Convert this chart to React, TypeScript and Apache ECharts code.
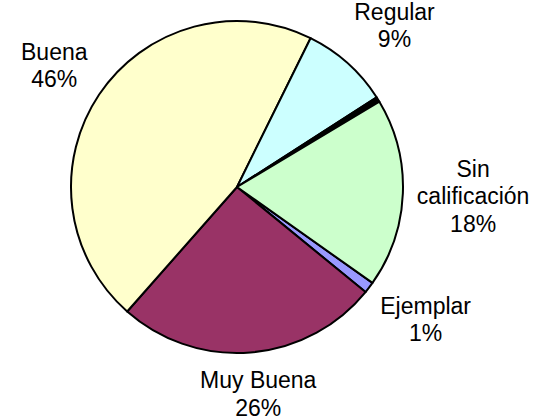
import React, { useEffect, useRef } from "react";
import * as echarts from "echarts";

const categories = ["Ejemplar", "Muy Buena", "Buena", "Regular", "Deficiente", "Sin calificación"];
const values = [1.1, 25.6, 45.8, 8.6, 0.5, 18.4];
const colors = ["#9999FF", "#993366", "#FFFFCC", "#CCFFFF", "#000000", "#CCFFCC"];
const hiddenLabels = ["Deficiente"];

const START_DEG = 125.3; // clockwise from 12 o'clock
const CX = 237;
const CY = 187;
const R = 166;
const GAP = 14;

export default function App() {
  const ref = useRef<HTMLDivElement>(null);
  useEffect(() => {
    if (!ref.current) return;
    const chart = echarts.init(ref.current, null, { renderer: "svg" });
    const total = values.reduce((a, b) => a + b, 0);
    const mids: number[] = [];
    let acc = 0;
    values.forEach((v) => {
      const span = (v / total) * 360;
      mids.push(START_DEG + acc + span / 2);
      acc += span;
    });
    chart.setOption({
      animation: false,
      backgroundColor: "#ffffff",
      series: [
        {
          type: "pie",
          center: [CX, CY],
          radius: R,
          startAngle: 90 - START_DEG,
          clockwise: true,
          avoidLabelOverlap: false,
          itemStyle: { borderColor: "#000000", borderWidth: 2 },
          emphasis: { disabled: true },
          label: {
            show: true,
            position: "outside",
            formatter: (p: any) => `${p.name === "Sin calificación" ? "Sin\ncalificación" : p.name}\n${Math.round(p.percent)}%`,
            fontFamily: "Liberation Sans, Arial, sans-serif",
            fontSize: 23,
            lineHeight: 27.5,
            color: "#000000",
          },
          labelLine: { show: false },
          labelLayout: (params: any) => {
            const i = params.dataIndex;
            const a = (mids[i] * Math.PI) / 180;
            const dx = Math.sin(a);
            const dy = -Math.cos(a);
            const w = params.labelRect.width / 2;
            const h = params.labelRect.height / 2;
            const k = 1.4;
            const cl = (t: number) => Math.max(-1, Math.min(1, t * k));
            return {
              x: CX + dx * (R + GAP) + w * cl(dx),
              y: CY + dy * (R + GAP) + h * cl(dy),
              align: "center",
              verticalAlign: "middle",
            };
          },
          data: categories.map((c, i) => ({
            name: c,
            value: values[i],
            itemStyle: { color: colors[i] },
            label: hiddenLabels.includes(c) ? { show: false } : undefined,
          })),
        },
      ],
    });
    return () => chart.dispose();
  }, []);
  return (
    <div
      ref={ref}
      style={{ position: "absolute", left: 0, top: 0, width: 544, height: 420 }}
    />
  );
}
